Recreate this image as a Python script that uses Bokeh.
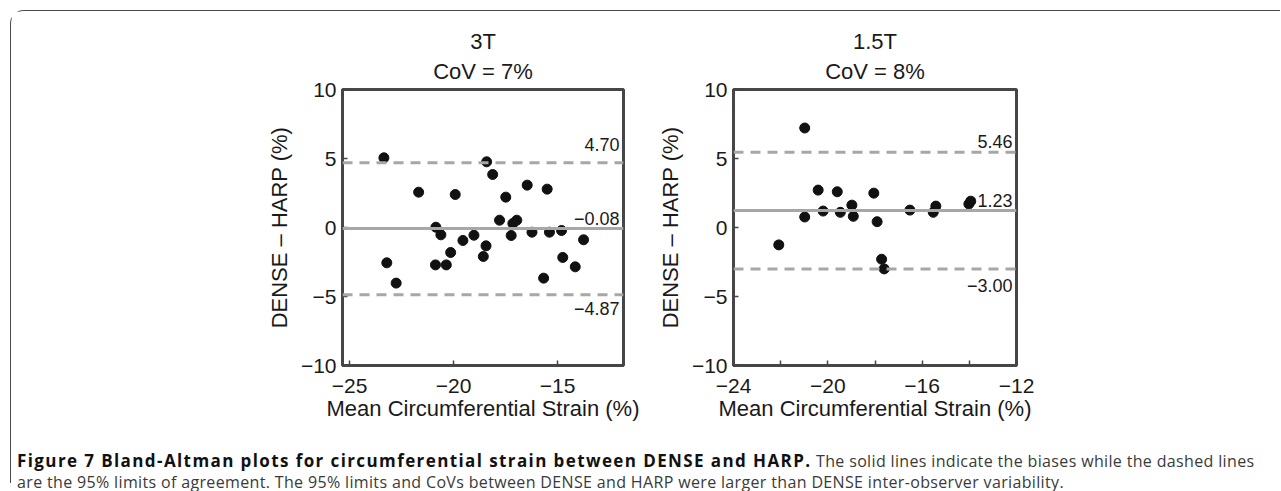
from bokeh.plotting import figure
from bokeh.models import Span, Label, Title, FixedTicker, Div, Range1d
from bokeh.layouts import row, column
from bokeh.embed import file_html
from bokeh.resources import INLINE

# ---------------- data ----------------
# 3T panel
mean_3t = [-23.35, -23.21, -22.76, -21.68, -20.85, -20.61, -20.87, -20.35, -20.14, -19.92,
           -19.55, -19.02, -18.57, -18.44, -18.41, -18.12, -17.79, -17.49, -17.23, -17.15,
           -16.96, -16.46, -16.23, -15.67, -15.50, -15.39, -14.81, -14.75, -14.15, -13.75]
diff_3t = [5.05, -2.56, -4.03, 2.56, 0.02, -0.53, -2.71, -2.71, -1.81, 2.39,
           -0.94, -0.56, -2.10, -1.33, 4.76, 3.84, 0.53, 2.20, -0.58, 0.29,
           0.53, 3.07, -0.34, -3.67, 2.78, -0.34, -0.22, -2.17, -2.85, -0.89]
bias_3t = -0.08
upper_3t = 4.70
lower_3t = -4.87
title_3t = ["3T", "CoV = 7%"]
xticks_3t = [-25, -20, -15]
xlabels_3t = ["\u221225", "\u221220", "\u221215"]
xminor_3t = []

# 1.5T panel
mean_15t = [-20.98, -22.08, -20.98, -20.41, -20.20, -19.60, -19.47, -18.98, -18.92,
            -18.05, -17.91, -17.72, -17.61, -16.52, -15.53, -15.42, -14.02, -13.94]
diff_15t = [7.21, -1.26, 0.76, 2.71, 1.19, 2.59, 1.10, 1.62, 0.81,
            2.49, 0.42, -2.30, -3.00, 1.26, 1.10, 1.55, 1.70, 1.91]
bias_15t = 1.23
upper_15t = 5.46
lower_15t = -3.00
title_15t = ["1.5T", "CoV = 8%"]
xticks_15t = [-24, -20, -16, -12]
xlabels_15t = ["\u221224", "\u221220", "\u221216", "\u221212"]
xminor_15t = [-22, -18, -14]

yticks = [-10, -5, 0, 5, 10]
ylabels = ["\u221210", "\u22125", "0", "5", "10"]

x_label = "Mean Circumferential Strain (%)"
y_label = "DENSE \u2013 HARP (%)"

caption_bold = "Figure 7 Bland-Altman plots for circumferential strain between DENSE and HARP."
caption_line1 = "The solid lines indicate the biases while the dashed lines"
caption_line2 = ("are the 95% limits of agreement. The 95% limits and CoVs between DENSE and HARP "
                 "were larger than DENSE inter-observer variability.")

FONT = "Liberation Sans"
DARK = "#464646"
LINEGRAY = "#a7a7a7"


def fmt(v):
    s = f"{v:.2f}"
    return s.replace("-", "\u2212")


def panel(xs, ys, bias, upper, lower, titles, xr, xticks, xlabels, xminor,
          min_left, frame_w, min_right, offs):
    p = figure(output_backend="svg", toolbar_location=None,
               frame_width=frame_w, frame_height=276,
               min_border_left=min_left, min_border_right=min_right,
               min_border_top=78, min_border_bottom=80,
               x_range=Range1d(*xr), y_range=Range1d(-10, 10),
               background_fill_color="white", border_fill_color="white")
    p.grid.visible = False
    p.outline_line_color = DARK
    p.outline_line_width = 3
    p.outline_line_alpha = 1

    p.add_layout(Title(text=titles[1], align="center", text_font=FONT,
                       text_font_size="22px", text_font_style="normal",
                       text_color="#1a1a1a", standoff=11, text_line_height=1.0), "above")
    p.add_layout(Title(text=titles[0], align="center", text_font=FONT,
                       text_font_size="22px", text_font_style="normal",
                       text_color="#1a1a1a", standoff=-4, text_line_height=1.0), "above")

    p.xaxis.ticker = FixedTicker(ticks=xticks, minor_ticks=xminor)
    p.xaxis.major_label_overrides = {float(t): l for t, l in zip(xticks, xlabels)}
    p.yaxis.ticker = FixedTicker(ticks=yticks)
    p.yaxis.major_label_overrides = {float(t): l for t, l in zip(yticks, ylabels)}
    p.xaxis.axis_label = x_label
    p.yaxis.axis_label = y_label
    for ax in (p.xaxis[0], p.yaxis[0]):
        ax.axis_line_color = DARK
        ax.axis_line_width = 3
        ax.major_tick_in = 5
        ax.major_tick_out = 0
        ax.minor_tick_in = 5
        ax.minor_tick_out = 0
        ax.major_tick_line_color = DARK
        ax.minor_tick_line_color = DARK
        ax.major_tick_line_width = 1.5
        ax.minor_tick_line_width = 1.5
        ax.major_label_text_font = FONT
        ax.major_label_text_font_size = "21px"
        ax.major_label_text_color = "#1a1a1a"
        ax.axis_label_text_font = FONT
        ax.axis_label_text_font_size = "22px"
        ax.axis_label_text_font_style = "normal"
        ax.axis_label_text_color = "#1a1a1a"
    p.xaxis.major_label_standoff = 13
    p.xaxis.axis_label_standoff = 0
    p.yaxis.major_label_standoff = 6
    p.yaxis.axis_label_standoff = 6

    p.add_layout(Span(location=upper, dimension="width", line_color=LINEGRAY,
                      line_width=3, line_dash="10 7"))
    p.add_layout(Span(location=lower, dimension="width", line_color=LINEGRAY,
                      line_width=3, line_dash="10 7"))
    p.add_layout(Span(location=bias, dimension="width", line_color=LINEGRAY,
                      line_width=3))

    p.scatter(xs, ys, size=10, fill_color="#111111", line_color="#111111")

    for val, (yo, base) in zip((upper, bias, lower), offs):
        p.add_layout(Label(x=xr[1], y=val, text=fmt(val), text_align="right",
                           text_baseline=base, x_offset=-4, y_offset=yo,
                           text_font=FONT, text_font_size="18px",
                           text_color="#1a1a1a"))
    return p


p1 = panel(mean_3t, diff_3t, bias_3t, upper_3t, lower_3t, title_3t,
           (-25.34, -11.83), xticks_3t, xlabels_3t, xminor_3t,
           min_left=331, frame_w=281, min_right=31,
           offs=[(18, "alphabetic"), (10, "alphabetic"), (-7, "top")])
p2 = panel(mean_15t, diff_15t, bias_15t, upper_15t, lower_15t, title_15t,
           (-24.0, -12.0), xticks_15t, xlabels_15t, xminor_15t,
           min_left=77, frame_w=283, min_right=30,
           offs=[(11, "alphabetic"), (10, "alphabetic"), (-10, "top")])

cap_html = (
    "<div style=\"font-family:'Open Sans';font-size:16px;line-height:21px;"
    "color:#3a3a3a;white-space:nowrap;padding-left:1px;letter-spacing:0.35px\">"
    f"<b style=\"color:#111;font-size:17px;letter-spacing:1.4px\">{caption_bold}</b> "
    f"{caption_line1}<br>{caption_line2}</div>"
)
cap = Div(text=cap_html, width=1260, height=28,
          styles={"overflow": "visible"})

root = column(row(p1, p2), cap, width=1270, margin=(10, 0, 0, 10),
              styles={"border-top": "1.5px solid #4a4a4a",
                      "border-left": "1.5px solid #4a4a4a",
                      "border-top-left-radius": "14px"})

open("out.html", "w").write(file_html(root, INLINE))
